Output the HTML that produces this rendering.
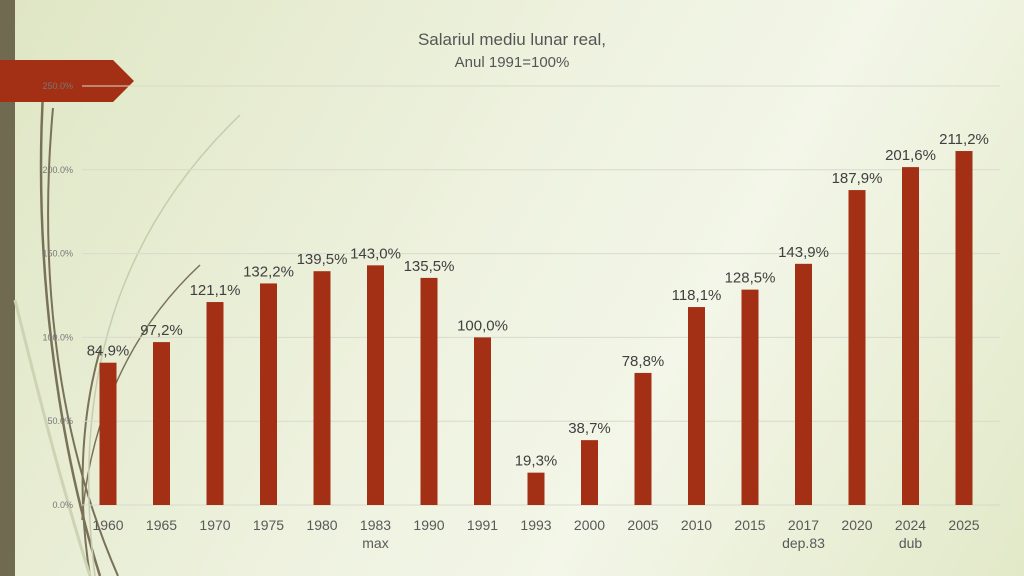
<!DOCTYPE html>
<html><head><meta charset="utf-8"><style>
html,body{margin:0;padding:0}
body{width:1024px;height:576px;overflow:hidden;font-family:"Liberation Sans",sans-serif;background:linear-gradient(120deg,#dfe6c4 0%,#eef2df 45%,#f3f6e8 65%,#e2e9c8 100%);position:relative}
</style></head><body>
<svg width="1024" height="576" style="position:absolute;left:0;top:0">
<rect x="0" y="0" width="15" height="576" fill="#6f6a50"/>
<g fill="none" stroke="#7a7258" stroke-width="2">
<path d="M53 108 C40 250 50 420 118 576"/>
<path d="M45 60 C30 260 60 450 100 576" stroke-width="2.5"/>
<path d="M100 350 C80 420 78 500 90 576" stroke-width="2"/>
<path d="M200 265 C130 330 90 420 82 520" stroke-width="1.5"/>
<path d="M240 115 C120 230 70 380 95 576" stroke="#c8ccae" stroke-width="1.5"/>
<path d="M15 300 C40 400 60 480 90 576" stroke="#cdd3b3" stroke-width="3"/>
</g>
<polygon points="0,60 113,60 134,81 113,102 0,102" fill="#a33015"/>
<g id="grid"></g>
<g id="bars"></g>
<text x="512" y="45" text-anchor="middle" font-size="17" fill="#555">Salariul mediu lunar real,</text>
<text x="512" y="67" text-anchor="middle" font-size="15" fill="#555">Anul 1991=100%</text>
</svg>
<script>
const categories=["1960","1965","1970","1975","1980","1983","1990","1991","1993","2000","2005","2010","2015","2017","2020","2024","2025"];
const subLabels=["","","","","","max","","","","","","","","dep.83","","dub",""];
const values=[84.9,97.2,121.1,132.2,139.5,143.0,135.5,100.0,19.3,38.7,78.8,118.1,128.5,143.9,187.9,201.6,211.2];
const yTicks=[0,50,100,150,200,250];
const NS="http://www.w3.org/2000/svg";
const x0=81.25,band=53.5,barW=17;
const y=v=>505-v*(419/250);
const xc=i=>x0+band*(i+0.5);
const fmt=v=>v.toFixed(1).replace('.',',')+'%';
const grid=document.getElementById('grid'),bars=document.getElementById('bars');
function mk(tag,attrs,parent,txt){const e=document.createElementNS(NS,tag);for(const k in attrs)e.setAttribute(k,attrs[k]);if(txt!==undefined)e.textContent=txt;parent.appendChild(e);return e;}
yTicks.forEach(t=>{
 const l=mk('line',{x1:82,x2:1000,y1:y(t),y2:y(t),stroke:'#d8dacb','stroke-width':1},grid);
 
 
 const tx=mk('text',{x:73,y:y(t)+3,'text-anchor':'end','font-size':9,fill:'#777'},grid,t.toFixed(1)+'%');
 
 
});
values.forEach((v,i)=>{
 const r=mk('rect',{x:xc(i)-barW/2,y:y(v),width:barW,height:y(0)-y(v),fill:'#a33015'},bars);
 
 
 const lb=mk('text',{x:xc(i),y:y(v)-7,'text-anchor':'middle','font-size':15,fill:'#404040'},bars,fmt(v));
 
 
 const c=mk('text',{x:xc(i),y:530,'text-anchor':'middle','font-size':14,fill:'#595959'},bars,categories[i]);
 
 
 if(subLabels[i]){
  const s=mk('text',{x:xc(i),y:548,'text-anchor':'middle','font-size':14,fill:'#595959'},bars,subLabels[i]);
  
  
 }
});
</script>
</body></html>
